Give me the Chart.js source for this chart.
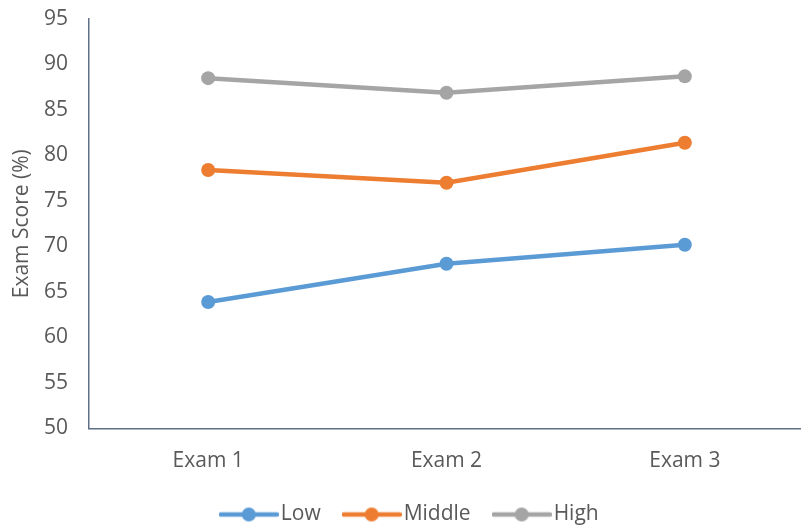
<!DOCTYPE html>
<html>
<head>
<meta charset="utf-8">
<script src="https://cdn.jsdelivr.net/npm/chart.js@4.4.1/dist/chart.umd.min.js"></script>
<style>
  html, body { margin: 0; padding: 0; background: #ffffff; overflow: hidden; }
  #wrap { position: relative; width: 811px; height: 535px; }
</style>
</head>
<body>
<div id="wrap"><canvas id="chart"></canvas></div>
<script>
// Exam scores by group
const exams = ['Exam 1', 'Exam 2', 'Exam 3'];
const lowScores = [63.9, 68.1, 70.2];
const middleScores = [78.4, 77.0, 81.4];
const highScores = [88.5, 86.9, 88.7];
const yTicks = [50, 55, 60, 65, 70, 75, 80, 85, 90, 95];

const seriesNames = ['Low', 'Middle', 'High'];
const seriesColors = ['#5B9BD5', '#ED7D31', '#A5A5A5'];
const seriesValues = [lowScores, middleScores, highScores];

const FONT = '"Open Sans", "Liberation Sans", sans-serif';
const FONT_SIZE = 21;
const TEXT_COLOR = '#595959';
const AXIS_COLOR = '#5f6f85';

// Legend swatch: a short line with a dot in the middle
function legendSwatch(color) {
  const c = document.createElement('canvas');
  c.width = 60; c.height = 16;
  const g = c.getContext('2d');
  g.strokeStyle = color;
  g.lineWidth = 4.5;
  g.lineCap = 'round';
  g.beginPath();
  g.moveTo(2, 8); g.lineTo(58, 8);
  g.stroke();
  g.fillStyle = color;
  g.beginPath();
  g.arc(30, 8, 7, 0, Math.PI * 2);
  g.fill();
  return c;
}
const swatches = seriesColors.map(legendSwatch);

const datasets = seriesNames.map((name, i) => ({
  label: name,
  data: seriesValues[i],
  borderColor: seriesColors[i],
  backgroundColor: seriesColors[i],
  borderWidth: 4.5,
  pointRadius: 7,
  pointHoverRadius: 7,
  pointBorderWidth: 0,
  pointBackgroundColor: seriesColors[i],
  tension: 0
}));

new Chart(document.getElementById('chart'), {
  type: 'line',
  data: { labels: exams, datasets },
  options: {
    responsive: true,
    maintainAspectRatio: false,
    animation: false,
    events: [],
    layout: { padding: { top: 19, left: 15, right: 0, bottom: 0 } },
    scales: {
      x: {
        offset: true,
        grid: { display: false, drawTicks: false },
        border: { display: true, color: AXIS_COLOR, width: 1.5 },
        ticks: { color: TEXT_COLOR, font: { family: FONT, size: FONT_SIZE }, padding: 20 },
        afterFit: (s) => { s.height = 46; }
      },
      y: {
        min: 50,
        max: 95,
        afterBuildTicks: (s) => { s.ticks = yTicks.map(v => ({ value: v })); },
        // hidden tick marks keep the labels clear of the axis line
        grid: { display: false, drawTicks: true, tickLength: 21 },
        border: { display: true, color: AXIS_COLOR, width: 1.5 },
        ticks: { color: TEXT_COLOR, font: { family: FONT, size: FONT_SIZE }, padding: 0 },
        title: {
          display: true,
          text: 'Exam Score (%)',
          color: TEXT_COLOR,
          font: { family: FONT, size: FONT_SIZE },
          padding: { top: -6, bottom: 0 }
        },
        afterFit: (s) => { s.width = 74; }
      }
    },
    plugins: {
      tooltip: { enabled: false },
      legend: {
        position: 'bottom',
        labels: {
          usePointStyle: true,
          pointStyleWidth: 43,
          padding: 29.5,
          color: TEXT_COLOR,
          font: { family: FONT, size: FONT_SIZE },
          generateLabels: (chart) => {
            const items = Chart.defaults.plugins.legend.labels.generateLabels(chart);
            items.forEach((it, i) => { it.pointStyle = swatches[i]; });
            return items;
          }
        }
      }
    }
  }
});
</script>
</body>
</html>
